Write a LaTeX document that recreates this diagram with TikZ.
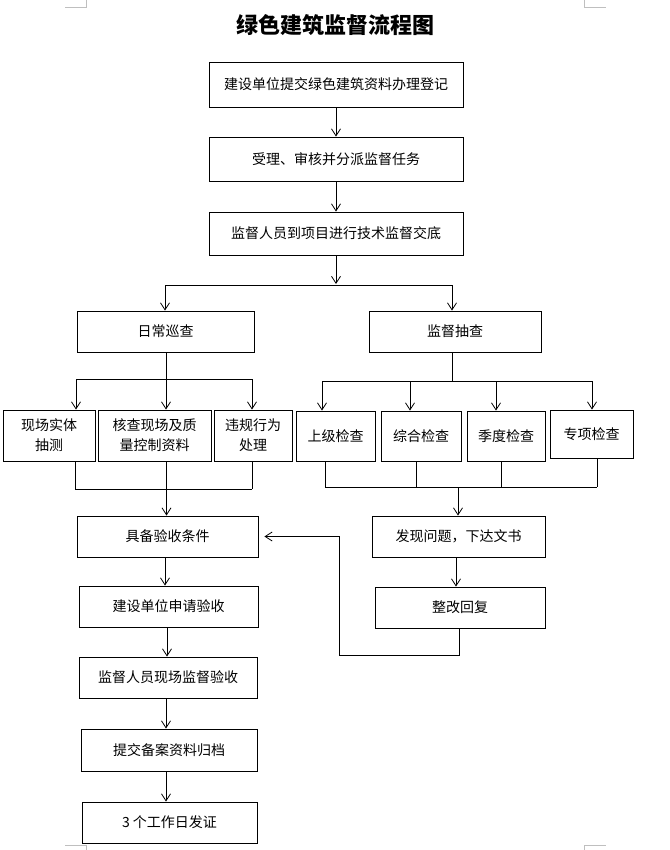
\documentclass[tikz,border=0pt]{standalone}
\usepackage{fontspec}
\setmainfont{Noto Sans CJK SC}
\usetikzlibrary{arrows.meta, positioning, calc}

\begin{document}
\begin{tikzpicture}[x=1pt, y=-1pt,
        box/.style={draw, line width=0.9pt, minimum height=41pt, align=center, inner sep=2pt, font=\fontsize{14}{20}\selectfont},
        arr/.style={-{Straight Barb[length=7pt, width=9pt]}, line width=0.8pt},
        ln/.style={line width=0.8pt},
        crop/.style={gray!50, line width=0.6pt}]

        \useasboundingbox (0,0) rectangle (669,850);

        % Crop marks
        \draw[crop] (65,7) -- (86,7) -- (86,0);
        \draw[crop] (584,0) -- (584,7) -- (606,7);
        \draw[crop] (65,845) -- (86,845) -- (86,850);
        \draw[crop] (584,850) -- (584,845) -- (606,845);

        % Title
        \node (title) at (335,25) {\fontsize{22}{26}\selectfont\bfseries 绿色建筑监督流程图};

        % Main column
        \node[box, minimum width=254, minimum height=45] (dj) at (336,84.5) {建设单位提交绿色建筑资料办理登记};
        \node[box, minimum width=254, minimum height=44] (sl) at (336,159) {受理、审核并分派监督任务};
        \node[box, minimum width=254, minimum height=43] (jd) at (336,233.5) {监督人员到项目进行技术监督交底};

        \draw[arr] (dj) -- (sl);
        \draw[arr] (sl) -- (jd);

        % Two branches
        \node[box, minimum width=177] (rcxc) at (165.5,331.5) {日常巡查};
        \node[box, minimum width=172] (jdcc) at (455,331.5) {监督抽查};

        \coordinate (fork) at (336,284);
        \coordinate (fl) at (165,285);
        \coordinate (fr) at (452,285);
        \draw[arr] (jd) -- (fork);
        \draw[ln] (fl) -- (fr);
        \draw[arr] (fl) -- (fl |- rcxc.north);
        \draw[arr] (fr) -- (fr |- jdcc.north);

        % Daily inspection items
        \node[box, minimum width=92, minimum height=51] (xc1) at (49,435.5) {现场实体\\抽测};
        \node[box, minimum width=113, minimum height=51] (xc2) at (154.5,435.5) {核查现场及质\\量控制资料};
        \node[box, minimum width=78, minimum height=51] (xc3) at (253,435.5) {违规行为\\处理};

        \coordinate (la) at (76,379);
        \coordinate (lb) at (166,379);
        \coordinate (lc) at (252,379);
        \draw[ln] (rcxc.south -| lb) -- (lb);
        \draw[ln] (la) -- (lc);
        \draw[arr] (la) -- (la |- xc1.north);
        \draw[arr] (lb) -- (lb |- xc2.north);
        \draw[arr] (lc) -- (lc |- xc3.north);

        % Spot checks
        \node[box, minimum width=79, minimum height=50] (cc1) at (335.5,436) {上级检查};
        \node[box, minimum width=80, minimum height=50] (cc2) at (421,436) {综合检查};
        \node[box, minimum width=78, minimum height=50] (cc3) at (506,436) {季度检查};
        \node[box, minimum width=83, minimum height=48] (cc4) at (591.5,434) {专项检查};

        \coordinate (ra) at (322,381);
        \coordinate (rb) at (410,381);
        \coordinate (rc) at (496,381);
        \coordinate (rd) at (592,381);
        \draw[ln] (fr |- jdcc.south) -- (fr |- ra);
        \draw[ln] (ra) -- (rd);
        \draw[arr] (ra) -- (ra |- cc1.north);
        \draw[arr] (rb) -- (rb |- cc2.north);
        \draw[arr] (rc) -- (rc |- cc3.north);
        \draw[arr] (rd) -- (rd |- cc4.north);

        % Acceptance column
        \node[box, minimum width=181] (jbys) at (167.5,536.5) {具备验收条件};
        \node[box, minimum width=179] (sqys) at (168.5,606.5) {建设单位申请验收};
        \node[box, minimum width=178] (xcys) at (168,677.5) {监督人员现场监督验收};
        \node[box, minimum width=176, minimum height=42] (bagd) at (169,750) {提交备案资料归档};
        \node[box, minimum width=175] (fz) at (169.5,822.5) {3 个工作日发证};

        % Join of daily items
        \coordinate (ja) at (75,489);
        \coordinate (jb) at (166.5,489);
        \coordinate (jc) at (252,489);
        \draw[ln] (ja |- xc1.south) -- (ja);
        \draw[ln] (jb |- xc2.south) -- (jb);
        \draw[ln] (jc |- xc3.south) -- (jc);
        \draw[ln] (ja) -- (jc);
        \draw[arr] (jb) -- (jb |- jbys.north);

        \draw[arr] (jbys.south -| 165,0) -- (sqys.north -| 165,0);
        \draw[arr] (sqys.south -| 167,0) -- (xcys.north -| 167,0);
        \draw[arr] (xcys.south -| 166,0) -- (bagd.north -| 166,0);
        \draw[arr] (bagd.south -| 166,0) -- (fz.north -| 166,0);

        % Problems and rectification
        \node[box, minimum width=173] (fxwt) at (458.5,536.5) {发现问题，下达文书};
        \node[box, minimum width=170] (zghf) at (460,607.5) {整改回复};

        \coordinate (ka) at (325,487);
        \coordinate (kb) at (416,487);
        \coordinate (kc) at (501,487);
        \coordinate (kd) at (597,487);
        \coordinate (km) at (458,487);
        \draw[ln] (ka |- cc1.south) -- (ka);
        \draw[ln] (kb |- cc2.south) -- (kb);
        \draw[ln] (kc |- cc3.south) -- (kc);
        \draw[ln] (kd |- cc4.south) -- (kd);
        \draw[ln] (ka) -- (kd);
        \draw[arr] (km) -- (km |- fxwt.north);

        \draw[arr] (fxwt.south -| 456,0) -- (zghf.north -| 456,0);

        % Feedback loop
        \coordinate (back) at (339,655);
        \draw[arr, shorten >=6pt] (zghf.south -| 459,0) |- (back) |- (jbys.east);

\end{tikzpicture}
\end{document}
